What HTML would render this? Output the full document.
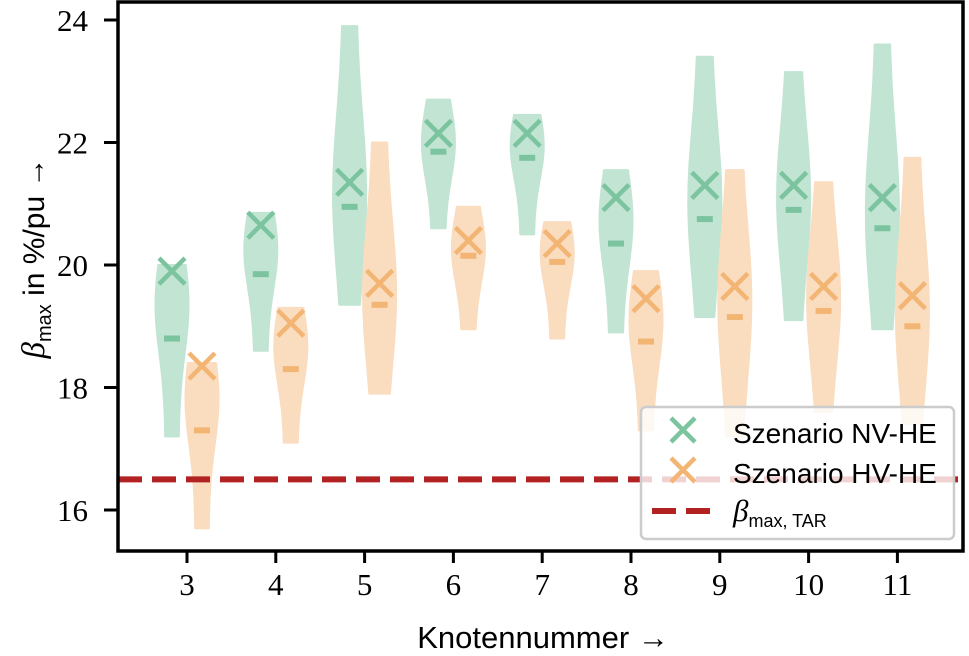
<!DOCTYPE html>
<html><head><meta charset="utf-8">
<style>
body{margin:0;background:#fff;}
svg{display:block;font-family:"Liberation Serif",serif;}
</style></head>
<body>
<svg id="chart" width="969" height="656" xmlns="http://www.w3.org/2000/svg">
<g id="plot"></g>
</svg>
<script>
const categories = [3,4,5,6,7,8,9,10,11];
const nvMin   = [17.2,18.6,19.35,20.6,20.5,18.9,19.15,19.1,18.95];
const nvMax   = [20.0,20.85,23.9,22.7,22.45,21.55,23.4,23.15,23.6];
const nvMean  = [18.8,19.85,20.95,21.85,21.75,20.35,20.75,20.9,20.6];
const nvCross = [19.9,20.65,21.35,22.15,22.15,21.1,21.3,21.3,21.1];
const hvMin   = [15.7,17.1,17.9,18.95,18.8,17.3,17.2,17.6,17.4];
const hvMax   = [18.4,19.3,22.0,20.95,20.7,19.9,21.55,21.35,21.75];
const hvMean  = [17.3,18.3,19.35,20.15,20.05,18.75,19.15,19.25,19.0];
const hvCross = [18.35,19.05,19.7,20.4,20.35,19.45,19.65,19.65,19.5];
const yTicks = [16,18,20,22,24];
const threshold = 16.5;

const NS='http://www.w3.org/2000/svg';
const svg=document.getElementById('chart');
const plot=document.getElementById('plot');
const L=118,R=963,T=2,B=551;
function y(v){return 20+(24-v)*61.25;}
function x(c){return 187+(c-3)*88.8;}
function mk(tag,attrs,parent){const e=document.createElementNS(NS,tag);for(const k in attrs)e.setAttribute(k,attrs[k]);(parent||svg).appendChild(e);return e;}

function violin(cx,mn,mx,mean,cross,fill,mark,name){
  const peak=(mean+cross)/2, s=Math.max((mx-mn)*0.4,0.7), maxW=16.5;
  const N=40, left=[], right=[];
  for(let i=0;i<=N;i++){
    const v=mn+(mx-mn)*i/N;
    let w=maxW*(0.4+0.6*Math.exp(-Math.pow((v-peak)/s,2)));
    left.push([cx-w,y(v)]);right.push([cx+w,y(v)]);
  }
  const pts=left.concat(right.reverse()).map(p=>p[0].toFixed(1)+','+p[1].toFixed(1)).join(' ');
  const p=mk('polygon',{points:pts,fill:fill,stroke:fill,'stroke-width':2,'stroke-linejoin':'round'},plot);
  
  
  const d=mk('rect',{x:cx-8,y:y(mean)-3,width:16,height:6,fill:mark},plot);
  
  
  const cy=y(cross), r=13;
  const g=mk('path',{d:`M${cx-r},${cy-r}L${cx+r},${cy+r}M${cx-r},${cy+r}L${cx+r},${cy-r}`,stroke:mark,'stroke-width':4.5,fill:'none'},plot);
  
  
}
categories.forEach((c,i)=>{
  violin(x(c)-15,nvMin[i],nvMax[i],nvMean[i],nvCross[i],'#c1e4d3','#7cc49f','nv-'+c);
  violin(x(c)+15,hvMin[i],hvMax[i],hvMean[i],hvCross[i],'#fadcbf','#f3b574','hv-'+c);
});
const th=mk('line',{x1:L,x2:R,y1:y(threshold),y2:y(threshold),stroke:'#b22222','stroke-width':6,'stroke-dasharray':'24 10'});


const fr=mk('rect',{x:L,y:T,width:R-L,height:B-T,fill:'none',stroke:'#000','stroke-width':3.5});


yTicks.forEach(v=>{
  const t=mk('line',{x1:L-14,x2:L,y1:y(v),y2:y(v),stroke:'#000','stroke-width':3});
  
  
  const tx=mk('text',{x:L-30,y:y(v)+11,'text-anchor':'end','font-size':31});
  tx.textContent=v;
  
  
});
categories.forEach(c=>{
  const t=mk('line',{x1:x(c),x2:x(c),y1:B,y2:B+12,stroke:'#000','stroke-width':3});
  
  
  const tx=mk('text',{x:x(c),y:B+44,'text-anchor':'middle','font-size':31});
  tx.textContent=c;
  
  
});
</script>
<svg style="position:absolute;left:0;top:0" width="969" height="656" xmlns="http://www.w3.org/2000/svg">
<text x="543" y="648" text-anchor="middle" font-family="Liberation Sans, sans-serif" font-size="31">Knotennummer →</text>
<text transform="translate(44,258) rotate(-90)" text-anchor="middle" font-family="Liberation Sans, sans-serif" font-size="30"><tspan font-family="Liberation Serif, serif" font-style="italic" font-size="33">β</tspan><tspan font-size="20" dy="7">max</tspan><tspan dy="-7"> in %/pu →</tspan></text>
<g>
<rect x="641" y="407" width="313" height="132" rx="5" fill="#fff" fill-opacity="0.8" stroke="#ccc" stroke-width="2.5"/>
<path d="M671,418L695,442M671,442L695,418" stroke="#7cc49f" stroke-width="4.5"/>
<text x="733" y="443" font-family="Liberation Sans, sans-serif" font-size="28">Szenario NV-HE</text>
<path d="M671,458L695,482M671,482L695,458" stroke="#f3b574" stroke-width="4.5"/>
<text x="733" y="483" font-family="Liberation Sans, sans-serif" font-size="28">Szenario HV-HE</text>
<line x1="652" x2="710" y1="511" y2="511" stroke="#b22222" stroke-width="6" stroke-dasharray="24 10"/>
<text x="733" y="521" font-family="Liberation Sans, sans-serif" font-size="24"><tspan font-family="Liberation Serif, serif" font-style="italic" font-size="31">β</tspan><tspan font-size="18" dy="6">max, TAR</tspan></text>
</g>
</svg>
</body></html>
